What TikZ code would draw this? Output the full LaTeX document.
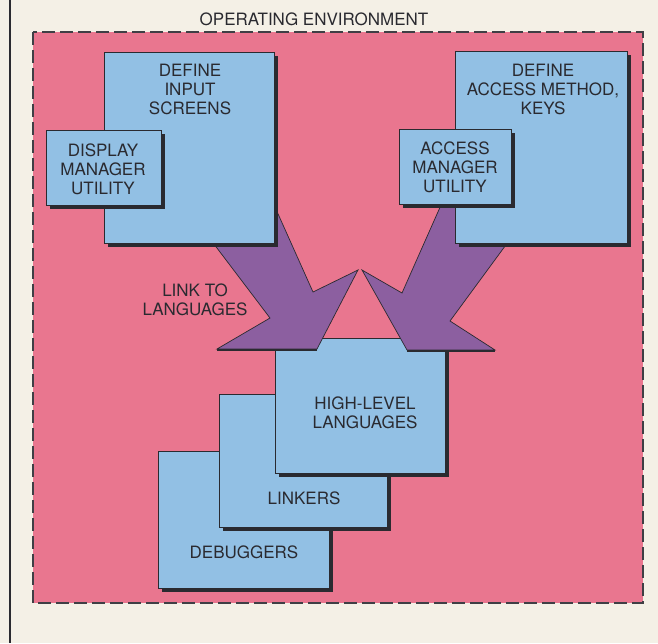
\documentclass[tikz,border=0pt]{standalone}
\usepackage{fontspec}
\setmainfont{TeX Gyre Heros}
\usetikzlibrary{shadows}
\definecolor{paper}{HTML}{F4F0E6}
\definecolor{envpink}{HTML}{E9768F}
\definecolor{boxblue}{HTML}{92C0E4}
\definecolor{arrowpurple}{HTML}{8C5FA0}
\definecolor{ink}{HTML}{2A2A30}
\begin{document}
\begin{tikzpicture}[x=1pt,y=-1pt,
  bluebox/.style={draw=ink, line width=0.8pt, fill=boxblue, inner sep=0pt,
    general shadow={fill=ink, shadow xshift=3.5pt, shadow yshift=-3.5pt}},
  lbl/.style={font=\fontsize{17}{19}\selectfont, align=center, text=ink, inner sep=0pt, anchor=center},
  bigarrow/.style={fill=arrowpurple, draw=ink, line width=0.7pt, line join=miter},
  arrowbase/.style={draw=ink, line width=2.6pt, line cap=butt}]
% page and margins
\fill[paper] (0,0) rectangle (658,643);
\useasboundingbox (0,0) rectangle (658,643);
\draw[ink, line width=2pt] (10,0) -- (10,643);
% operating environment
\fill[envpink] (33,32) rectangle (643,603);
\draw[ink!90, line width=2pt, dash pattern=on 13pt off 5pt] (33,32) rectangle (643,603);
\node[lbl] (env) at (314,19) {OPERATING ENVIRONMENT};
% bottom stack
\node[bluebox, minimum width=171pt, minimum height=137pt] (dbg) at (243.5,519.5) {};
\node[bluebox, minimum width=168pt, minimum height=133pt] (lnk) at (303,460.5) {};
\node[bluebox, minimum width=170pt, minimum height=135pt] (hll) at (360,405.5) {};
\node[lbl] (dbgt) at (244,552) {DEBUGGERS};
\node[lbl] (lnkt) at (304,498) {LINKERS};
\node[lbl] (hllt) at (365,413) {HIGH-LEVEL\\LANGUAGES};
% arrows
\coordinate (apexL) at (358,270);
\coordinate (apexR) at (362,270);
\path[bigarrow] (198,223) -- (270,318) -- (217,349) -- (317,349) -- (apexL) -- (313,292) -- (266,187) -- cycle;
\path[bigarrow] (apexR) -- (402,293) -- (449,187) -- (522,223) -- (450,321) -- (495,350) -- (407,350) -- cycle;
\draw[arrowbase] (217,350) -- (317,350);
\draw[arrowbase] (407,351) -- (495,351);
\node[lbl] (link) at (195,300) {LINK TO\\LANGUAGES};
% top boxes
\node[bluebox, minimum width=170pt, minimum height=191pt] (dis) at (189,147.5) {};
\node[bluebox, minimum width=115pt, minimum height=75pt] (dmu) at (103.5,167.5) {};
\node[bluebox, minimum width=172pt, minimum height=192pt] (dam) at (541,147) {};
\node[bluebox, minimum width=112pt, minimum height=75pt] (amu) at (455,166.5) {};
\node[lbl] (dist) at (190,89) {DEFINE\\INPUT\\SCREENS};
\node[lbl] (dmut) at (103,169) {DISPLAY\\MANAGER\\UTILITY};
\node[lbl] (damt) at (543,89) {DEFINE\\ACCESS METHOD,\\KEYS};
\node[lbl] (amut) at (455,167) {ACCESS\\MANAGER\\UTILITY};
\end{tikzpicture}
\end{document}
